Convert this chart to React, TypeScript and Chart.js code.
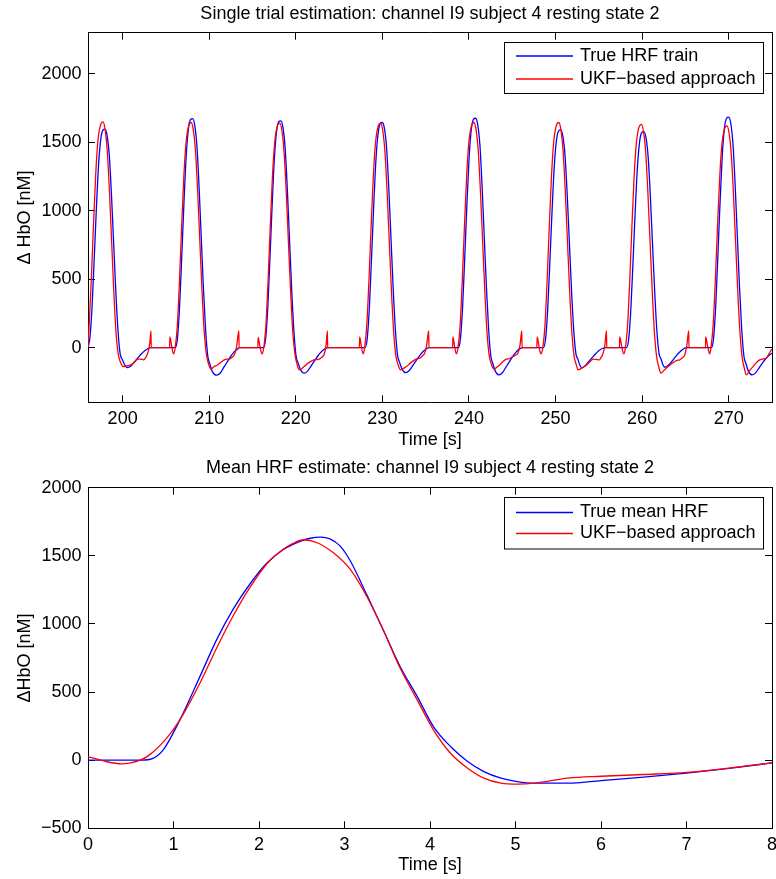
import React, { useEffect, useRef } from 'react';
import { Chart, registerables } from 'chart.js';

Chart.register(...registerables);

const FONT = '"Liberation Sans", Arial, Helvetica, sans-serif';

// ---------- text ----------
const trialTitle = 'Single trial estimation: channel I9 subject 4 resting state 2';
const meanTitle = 'Mean HRF estimate: channel I9 subject 4 resting state 2';
const trialYLabel = 'Δ HbO [nM]';
const meanYLabel = 'ΔHbO [nM]';
const xLabel = 'Time [s]';
const trueTrainLabel = 'True HRF train';
const trueMeanLabel = 'True mean HRF';
const ukfLabel = 'UKF\u2212based approach';

// ---------- ticks ----------
const trialXTicks = [200, 210, 220, 230, 240, 250, 260, 270];
const trialYTicks = [0, 500, 1000, 1500, 2000];
const meanXTicks = [0, 1, 2, 3, 4, 5, 6, 7, 8];
const meanYTicks = [-500, 0, 500, 1000, 1500, 2000];

// ---------- top panel: single trial (time s, ΔHbO nM) ----------
const trueHrfTrain: [number, number][] = [
  [196.0, 0], [196.21, 64], [196.46, 287], [196.71, 638], [196.96, 1005], [197.21, 1324], [197.46, 1515], [197.71, 1587], [197.96, 1595], [198.21, 1547], [198.46, 1404], [198.71, 1117], [198.96, 766], [199.21, 415], [199.46, 128], [199.71, -44], [199.96, -88], [200.26, -128], [200.55, -146], [200.95, -134], [201.35, -105], [201.75, -76], [202.15, -47], [202.55, -23], [202.95, -7], [203.3, 0],
  [206.08, 0], [206.33, 67], [206.58, 301], [206.83, 669], [207.08, 1054], [207.33, 1389], [207.58, 1589], [207.83, 1665], [208.08, 1673], [208.33, 1623], [208.58, 1472], [208.83, 1171], [209.08, 803], [209.33, 435], [209.58, 134], [209.83, -61], [210.08, -121], [210.38, -178], [210.88, -202], [211.28, -186], [211.68, -145], [212.08, -105], [212.48, -65], [212.88, -32], [213.28, -10], [213.46, 0],
  [216.27, 0], [216.52, 66], [216.77, 298], [217.02, 662], [217.27, 1043], [217.52, 1374], [217.77, 1573], [218.02, 1648], [218.27, 1656], [218.52, 1606], [218.77, 1457], [219.02, 1159], [219.27, 795], [219.52, 431], [219.77, 132], [220.02, -56], [220.27, -112], [220.57, -165], [220.96, -187], [221.36, -172], [221.76, -135], [222.16, -97], [222.56, -60], [222.96, -30], [223.36, -9], [223.73, 0],
  [228.0, 0], [228.25, 66], [228.5, 296], [228.75, 658], [229.0, 1036], [229.25, 1365], [229.5, 1562], [229.75, 1636], [230.0, 1644], [230.25, 1595], [230.5, 1447], [230.75, 1151], [231.0, 789], [231.25, 427], [231.5, 132], [231.75, -55], [232.0, -110], [232.3, -161], [232.7, -183], [233.1, -168], [233.5, -132], [233.9, -95], [234.3, -59], [234.7, -29], [235.1, -9], [235.4, 0],
  [238.77, 0], [239.02, 67], [239.27, 302], [239.52, 670], [239.77, 1055], [240.02, 1390], [240.27, 1591], [240.52, 1667], [240.77, 1675], [241.02, 1625], [241.27, 1474], [241.52, 1173], [241.77, 804], [242.02, 436], [242.27, 134], [242.52, -60], [242.77, -120], [243.07, -176], [243.46, -200], [243.86, -184], [244.26, -144], [244.66, -104], [245.06, -64], [245.46, -32], [245.86, -10], [246.2, 0],
  [248.6, 0], [248.85, 64], [249.1, 286], [249.35, 636], [249.6, 1002], [249.85, 1320], [250.1, 1511], [250.35, 1582], [250.6, 1590], [250.85, 1542], [251.1, 1399], [251.35, 1113], [251.6, 763], [251.85, 413], [252.1, 127], [252.35, -44], [252.6, -88], [252.8, -128], [253.0, -146], [253.4, -134], [253.8, -105], [254.2, -76], [254.6, -47], [255.0, -23], [255.4, -7], [255.9, 0],
  [258.2, 0], [258.45, 63], [258.7, 284], [258.95, 631], [259.2, 994], [259.45, 1310], [259.7, 1499], [259.95, 1570], [260.2, 1578], [260.45, 1531], [260.7, 1389], [260.95, 1105], [261.2, 757], [261.45, 410], [261.7, 126], [261.95, -43], [262.2, -86], [262.4, -126], [262.6, -144], [263.0, -132], [263.4, -104], [263.8, -72], [264.2, -42], [264.6, -18], [264.9, -5], [265.1, 0],
  [268.0, 0], [268.25, 67], [268.5, 303], [268.75, 673], [269.0, 1060], [269.25, 1397], [269.5, 1599], [269.75, 1675], [270.0, 1683], [270.25, 1633], [270.5, 1481], [270.75, 1178], [271.0, 808], [271.25, 438], [271.5, 135], [271.75, -60], [272.0, -120], [272.3, -176], [272.7, -200], [273.1, -185], [273.5, -150], [273.9, -112], [274.3, -80], [274.7, -55], [275.0, -41],
];

const ukfTrain: [number, number][] = [
  [196.0, 0], [196.13, 165], [196.38, 494], [196.63, 890], [196.88, 1252], [197.13, 1500], [197.43, 1623], [197.73, 1648], [197.98, 1590], [198.23, 1434], [198.48, 1137], [198.73, 775], [198.98, 412], [199.23, 115], [199.48, -42], [199.73, -104], [200.1, -139], [200.55, -133], [200.96, -127], [201.35, -108], [201.73, -85], [202.1, -84], [202.42, -90], [202.7, -70], [202.95, -30], [203.15, 40], [203.27, 122], [203.3, 0], [205.42, 0], [205.46, 78], [205.68, 5], [205.88, -46],
  [206.07, 0], [206.32, 164], [206.57, 493], [206.82, 888], [207.07, 1249], [207.32, 1496], [207.62, 1619], [207.92, 1644], [208.17, 1586], [208.42, 1430], [208.67, 1134], [208.92, 773], [209.17, 411], [209.42, 115], [209.67, -47], [209.92, -119], [210.19, -158], [210.55, -140], [210.96, -127], [211.35, -108], [211.73, -90], [212.05, -84], [212.31, -85], [212.6, -72], [212.88, -54], [213.15, 0], [213.42, 122], [213.45, 0], [215.61, 0], [215.65, 75], [215.87, 5], [216.08, -46],
  [216.3, 0], [216.55, 164], [216.8, 492], [217.05, 885], [217.3, 1246], [217.55, 1491], [217.85, 1614], [218.15, 1639], [218.4, 1582], [218.65, 1426], [218.9, 1131], [219.15, 770], [219.4, 410], [219.65, 115], [219.9, -49], [220.15, -122], [220.38, -163], [220.96, -139], [221.5, -110], [222.1, -90], [222.4, -88], [222.7, -84], [223.0, -72], [223.3, -45], [223.5, 20], [223.65, 122], [223.68, 0], [227.34, 0], [227.38, 78], [227.58, 5], [227.77, -46],
  [227.95, 0], [228.2, 164], [228.45, 492], [228.7, 885], [228.95, 1246], [229.2, 1491], [229.5, 1614], [229.8, 1639], [230.05, 1582], [230.3, 1426], [230.55, 1131], [230.8, 770], [231.05, 410], [231.3, 115], [231.55, -57], [231.8, -122], [232.08, -163], [232.5, -150], [232.77, -139], [233.25, -112], [233.73, -90], [234.0, -82], [234.31, -78], [234.6, -62], [234.88, -41], [235.1, 10], [235.35, 122], [235.38, 0], [238.11, 0], [238.15, 78], [238.35, 5], [238.54, -46],
  [238.73, 0], [238.98, 164], [239.23, 493], [239.48, 888], [239.73, 1249], [239.98, 1496], [240.28, 1619], [240.58, 1644], [240.83, 1586], [241.08, 1430], [241.33, 1134], [241.58, 773], [241.83, 411], [242.08, 115], [242.33, -55], [242.58, -119], [242.88, -158], [243.2, -145], [243.54, -127], [243.9, -103], [244.31, -85], [244.7, -80], [245.08, -66], [245.4, -55], [245.65, -41], [245.9, 20], [246.1, 122], [246.13, 0], [247.84, 0], [247.88, 78], [248.1, 5], [248.3, -46],
  [248.53, 0], [248.78, 164], [249.03, 493], [249.28, 888], [249.53, 1249], [249.78, 1496], [250.08, 1619], [250.38, 1644], [250.63, 1586], [250.88, 1430], [251.13, 1134], [251.38, 773], [251.63, 411], [251.88, 115], [252.13, -57], [252.38, -122], [252.6, -163], [253.05, -150], [253.58, -127], [254.0, -103], [254.35, -85], [254.7, -86], [255.04, -90], [255.3, -68], [255.5, -41], [255.7, 20], [255.88, 122], [255.91, 0], [257.38, 0], [257.42, 78], [257.65, 5], [257.88, -46],
  [258.07, 0], [258.32, 163], [258.57, 489], [258.82, 881], [259.07, 1240], [259.32, 1484], [259.62, 1606], [259.92, 1631], [260.17, 1574], [260.42, 1419], [260.67, 1125], [260.92, 767], [261.17, 408], [261.42, 114], [261.67, -65], [261.92, -140], [262.15, -187], [262.55, -165], [263.0, -139], [263.4, -118], [263.77, -102], [264.05, -94], [264.35, -90], [264.65, -75], [264.92, -54], [265.15, 10], [265.38, 122], [265.41, 0], [267.31, 0], [267.35, 78], [267.58, 5], [267.8, -46],
  [267.95, 0], [268.2, 162], [268.45, 486], [268.7, 874], [268.95, 1230], [269.2, 1473], [269.5, 1595], [269.8, 1619], [270.05, 1562], [270.3, 1409], [270.55, 1117], [270.8, 761], [271.05, 405], [271.3, 113], [271.55, -70], [271.8, -150], [272.04, -200], [272.4, -170], [272.81, -139], [273.2, -110], [273.58, -90], [274.0, -82], [274.35, -78], [274.7, -40], [275.0, -10],
];

// ---------- bottom panel: mean HRF (time s, ΔHbO nM) ----------
const trueMeanHrf: [number, number][] = [
  [0, 0], [0.3, 0], [0.6, 0], [0.72, 5], [0.88, 76], [1.075, 296], [1.31, 615], [1.505, 885], [1.7, 1110], [1.896, 1295], [2.09, 1445], [2.286, 1546], [2.48, 1606], [2.6, 1629], [2.72, 1637], [2.83, 1625], [2.95, 1571], [3.07, 1460], [3.26, 1215], [3.46, 946], [3.65, 688], [3.85, 468], [4.04, 247], [4.24, 100], [4.44, -10], [4.63, -84], [4.83, -132], [5.02, -157], [5.22, -169], [5.61, -169], [6.0, -150], [6.5, -125], [7.0, -95], [7.5, -60], [8.0, -20],
];

const ukfMeanHrf: [number, number][] = [
  [0, 27], [0.2, -8], [0.39, -27], [0.61, 0], [0.72, 39], [0.92, 162], [1.075, 296], [1.31, 566], [1.505, 824], [1.7, 1062], [1.896, 1270], [2.09, 1440], [2.286, 1550], [2.4, 1592], [2.52, 1618], [2.68, 1596], [2.87, 1522], [3.07, 1399], [3.26, 1203], [3.46, 946], [3.65, 676], [3.85, 443], [4.04, 223], [4.24, 51], [4.44, -59], [4.63, -132], [4.83, -169], [5.02, -176], [5.22, -169], [5.61, -132], [6.0, -118], [6.5, -105], [7.0, -90], [7.5, -58], [8.0, -20],
];

// ---------- helpers ----------
const BLUE = '#0000ff';
const RED = '#ff0000';

const fmt = (v: any) => {
  const n = Number(v);
  return n < 0 ? '\u2212' + Math.abs(n) : String(n);
};

const boxLegend = {
  id: 'boxLegend',
  afterDatasetsDraw(chart: any, _args: any, opts: any) {
    const { ctx, chartArea } = chart;
    const w = opts.width;
    const h = opts.height;
    const left = Math.round(chartArea.right - opts.right - w);
    const top = Math.round(chartArea.top + opts.top);
    ctx.save();
    ctx.fillStyle = '#ffffff';
    ctx.fillRect(left, top, w, h);
    ctx.strokeStyle = '#000000';
    ctx.lineWidth = 1;
    ctx.strokeRect(left + 0.5, top + 0.5, w, h);
    ctx.font = `18px ${FONT}`;
    ctx.textBaseline = 'middle';
    ctx.textAlign = 'left';
    chart.data.datasets.forEach((ds: any, i: number) => {
      const y = top + opts.rows[i];
      ctx.strokeStyle = ds.borderColor;
      ctx.lineWidth = 1.3;
      ctx.beginPath();
      ctx.moveTo(left + 12, y);
      ctx.lineTo(left + 69, y);
      ctx.stroke();
      ctx.fillStyle = '#000000';
      ctx.fillText(ds.label, left + 76, y);
    });
    ctx.restore();
  },
};

const zeroPad = (s: any) => {
  s.paddingLeft = 0;
  s.paddingRight = 0;
  s.paddingTop = 0;
  s.paddingBottom = 0;
};

function makeScales(cfg: {
  xmin: number; xmax: number; xticks: number[];
  ymin: number; ymax: number; yticks: number[];
  ylabel: string; xAxisHeight: number; xTitlePad: number;
}) {
  const grid = { drawOnChartArea: false, drawTicks: true, tickLength: -7, color: '#000', lineWidth: 1 };
  const border = { display: true, color: '#000', width: 1 };
  const tickFont = { family: FONT, size: 18 };
  const setTicks = (vals: number[]) => (scale: any) => {
    scale.ticks = vals.map((v) => ({ value: v }));
  };
  return {
    x: {
      type: 'linear', position: 'bottom', bounds: 'data', min: cfg.xmin, max: cfg.xmax,
      afterBuildTicks: setTicks(cfg.xticks),
      grid, border,
      ticks: { font: tickFont, color: '#000', padding: 13, maxRotation: 0, autoSkip: false, callback: fmt },
      title: { display: true, text: xLabel, color: '#000', font: { family: FONT, size: 18 }, padding: { top: 0, bottom: cfg.xTitlePad } },
      afterFit: (s: any) => { s.height = cfg.xAxisHeight; zeroPad(s); },
    },
    xTop: {
      type: 'linear', position: 'top', bounds: 'data', min: cfg.xmin, max: cfg.xmax,
      afterBuildTicks: setTicks(cfg.xticks),
      grid, border,
      ticks: { display: false },
      afterFit: (s: any) => { s.height = 0; zeroPad(s); },
    },
    y: {
      type: 'linear', position: 'left', bounds: 'data', min: cfg.ymin, max: cfg.ymax,
      afterBuildTicks: setTicks(cfg.yticks),
      grid, border,
      ticks: { font: tickFont, color: '#000', padding: 13.5, autoSkip: false, callback: fmt },
      title: { display: true, text: cfg.ylabel, color: '#000', font: { family: FONT, size: 18 }, padding: { top: 14, bottom: 0 } },
      afterFit: (s: any) => { s.width = 88; zeroPad(s); },
    },
    yRight: {
      type: 'linear', position: 'right', bounds: 'data', min: cfg.ymin, max: cfg.ymax,
      afterBuildTicks: setTicks(cfg.yticks),
      grid, border,
      ticks: { display: false },
      afterFit: (s: any) => { s.width = 0; zeroPad(s); },
    },
  };
}

function lineDataset(label: string, pts: [number, number][], color: string, order: number) {
  return {
    label,
    data: pts.map(([x, y]) => ({ x, y })),
    borderColor: color,
    backgroundColor: color,
    borderWidth: 1.3,
    pointRadius: 0,
    pointHoverRadius: 0,
    fill: false,
    cubicInterpolationMode: 'monotone',
    xAxisID: 'x',
    yAxisID: 'y',
    order,
  };
}

function useChart(ref: React.RefObject<HTMLCanvasElement>, config: () => any) {
  useEffect(() => {
    if (!ref.current) return;
    const chart = new Chart(ref.current, config());
    return () => chart.destroy();
  }, []);
}

export default function App() {
  const topRef = useRef<HTMLCanvasElement>(null);
  const botRef = useRef<HTMLCanvasElement>(null);

  useChart(topRef, () => ({
    type: 'line',
    data: {
      datasets: [
        lineDataset(trueTrainLabel, trueHrfTrain, BLUE, 1),
        lineDataset(ukfLabel, ukfTrain, RED, 0),
      ],
    },
    plugins: [boxLegend],
    options: {
      animation: false,
      responsive: false,
      devicePixelRatio: 1,
      events: [],
      layout: { padding: { left: 0, right: 4, top: 0, bottom: 0 } },
      scales: makeScales({
        xmin: 196, xmax: 275, xticks: trialXTicks,
        ymin: -400, ymax: 2300, yticks: trialYTicks,
        ylabel: trialYLabel, xAxisHeight: 49.7, xTitlePad: 1.2,
      }),
      plugins: {
        legend: { display: false },
        tooltip: { enabled: false },
        title: {
          display: true, fullSize: false, text: trialTitle, color: '#000',
          font: { family: FONT, size: 18, weight: 'normal' },
          padding: { top: 3, bottom: 8.1 },
        },
        boxLegend: { width: 259, height: 51, right: 8.7, top: 9.6, rows: [14, 37] },
      },
    },
  }));

  useChart(botRef, () => ({
    type: 'line',
    data: {
      datasets: [
        lineDataset(trueMeanLabel, trueMeanHrf, BLUE, 1),
        lineDataset(ukfLabel, ukfMeanHrf, RED, 0),
      ],
    },
    plugins: [boxLegend],
    options: {
      animation: false,
      responsive: false,
      devicePixelRatio: 1,
      events: [],
      layout: { padding: { left: 0, right: 4, top: 0, bottom: 0 } },
      scales: makeScales({
        xmin: 0, xmax: 8, xticks: meanXTicks,
        ymin: -500, ymax: 2000, yticks: meanYTicks,
        ylabel: meanYLabel, xAxisHeight: 50.7, xTitlePad: 3.2,
      }),
      plugins: {
        legend: { display: false },
        tooltip: { enabled: false },
        title: {
          display: true, fullSize: false, text: meanTitle, color: '#000',
          font: { family: FONT, size: 18, weight: 'normal' },
          padding: { top: 5.2, bottom: 8.9 },
        },
        boxLegend: { width: 259, height: 51.5, right: 8.7, top: 9, rows: [15.5, 36.5] },
      },
    },
  }));

  return (
    <div style={{ position: 'absolute', left: 0, top: 0, width: 776, height: 879, background: '#fff' }}>
      <canvas ref={topRef} width={776} height={452}
        style={{ position: 'absolute', left: 0, top: 0, width: 776, height: 452 }} />
      <canvas ref={botRef} width={776} height={427}
        style={{ position: 'absolute', left: 0, top: 452, width: 776, height: 427 }} />
    </div>
  );
}
